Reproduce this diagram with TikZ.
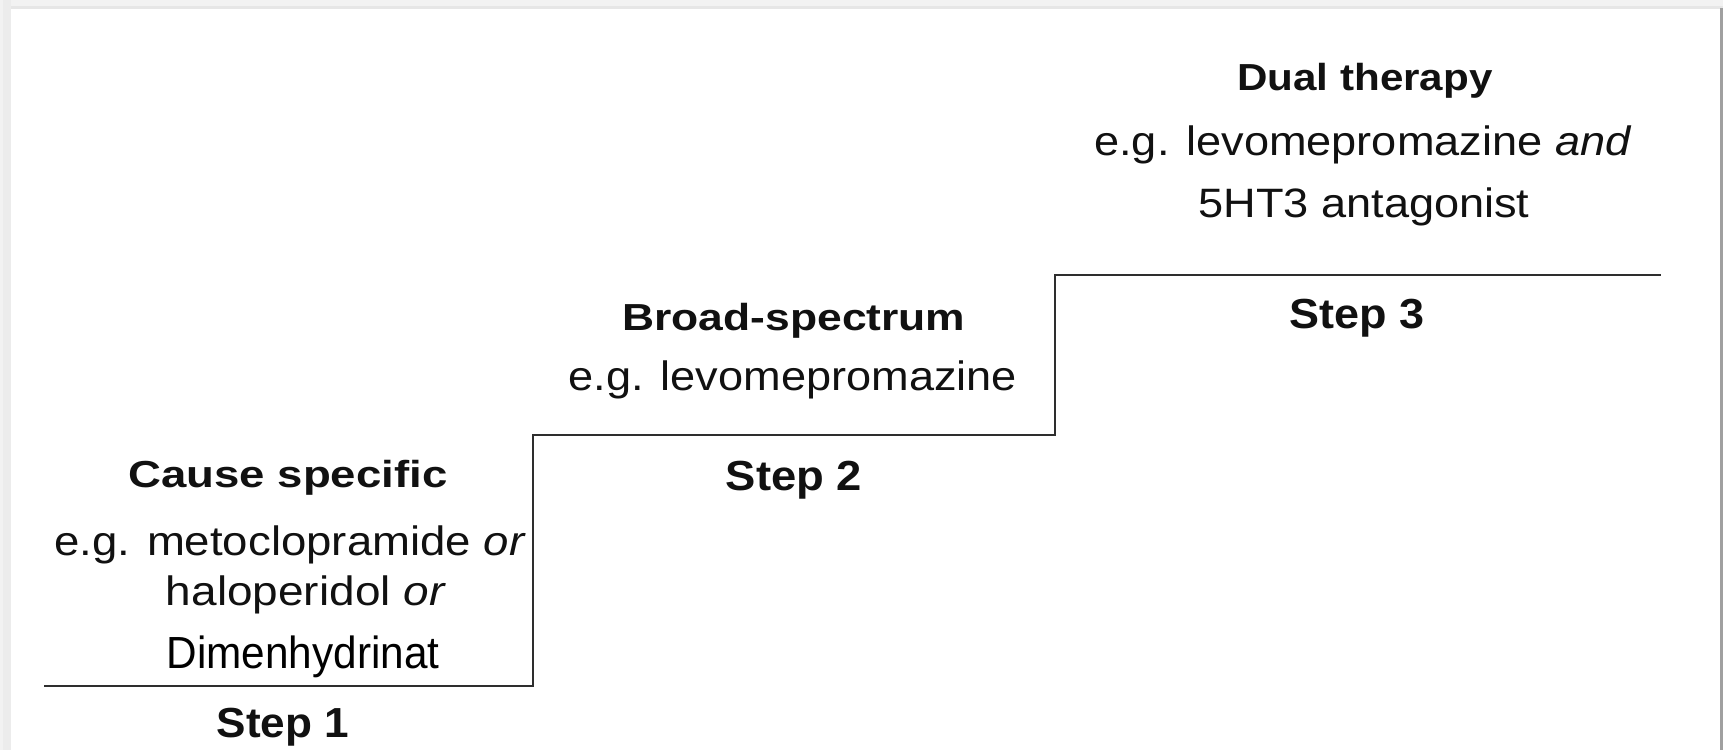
\documentclass[tikz,border=0pt]{standalone}
\usepackage{fontspec}
\setmainfont{Liberation Sans}
\usepackage{graphicx}
\definecolor{ink}{HTML}{111111}
\definecolor{stairline}{HTML}{2E2E2E}
\definecolor{topband}{HTML}{F2F2F2}
\definecolor{topline}{HTML}{E6E6E6}
\definecolor{leftband}{HTML}{ECECEC}
\definecolor{edgeline}{HTML}{A0A0A0}
\newcommand{\sx}[2]{\scalebox{#1}[1]{#2}}
\tikzset{
  headtxt/.style={anchor=base, inner sep=0pt, text=ink, font=\bfseries\fontsize{10.7}{12}\selectfont},
  bodytxt/.style={anchor=base, inner sep=0pt, text=ink, font=\fontsize{11.67}{13}\selectfont},
  plaintxt/.style={anchor=base, inner sep=0pt, text=black, font=\fontsize{12.8}{14}\selectfont},
  steptxt/.style={anchor=base, inner sep=0pt, text=ink, font=\bfseries\fontsize{11.95}{13}\selectfont},
  stair/.style={draw=stairline, line width=0.75pt, line join=miter}
}
\begin{document}
\begin{tikzpicture}[x=0.01cm, y=-0.01cm]
\useasboundingbox (0,0) rectangle (1723,750);
% page frame
\fill[white] (0,0) rectangle (1723,750);
\fill[topband] (0,0) rectangle (1723,6);
\fill[topline] (0,6) rectangle (1723,9);
\fill[leftband] (0,0) rectangle (11,750);
\fill[topband] (0,0) rectangle (3,750);
\fill[edgeline] (1720,8) rectangle (1723,750);
% staircase
\coordinate (s1a) at (44,686);
\coordinate (s1b) at (533,686);
\coordinate (s2a) at (533,435);
\coordinate (s2b) at (1055,435);
\coordinate (s3a) at (1055,275);
\coordinate (s3b) at (1661,275);
\draw[stair] (s1a) -- (s1b) -- (s2a) -- (s2b) -- (s3a) -- (s3b);
% step 1
\node[headtxt] (h1) at (288,487) {\sx{1.21}{Cause specific}};
\node[bodytxt] (b1a) at (290,555) {\sx{1.11}{e.g. metoclopramide \textit{or}}};
\node[bodytxt] (b1b) at (306,605) {\sx{1.12}{haloperidol \textit{or}}};
\node[plaintxt] (b1c) at (303,668) {\sx{0.94}{Dimenhydrinat}};
\node[steptxt] (st1) at (283,737) {\sx{1.05}{Step 1}};
% step 2
\node[headtxt] (h2) at (794,330) {\sx{1.18}{Broad-spectrum}};
\node[bodytxt] (b2) at (793,390) {\sx{1.10}{e.g. levomepromazine}};
\node[steptxt] (st2) at (794,490) {\sx{1.08}{Step 2}};
% step 3
\node[headtxt] (h3) at (1365,90) {\sx{1.12}{Dual therapy}};
\node[bodytxt] (b3a) at (1363,155) {\sx{1.10}{e.g. levomepromazine \textit{and}}};
\node[bodytxt] (b3b) at (1364,217) {\sx{1.10}{5HT3 antagonist}};
\node[steptxt] (st3) at (1357,328) {\sx{1.07}{Step 3}};
\end{tikzpicture}
\end{document}
